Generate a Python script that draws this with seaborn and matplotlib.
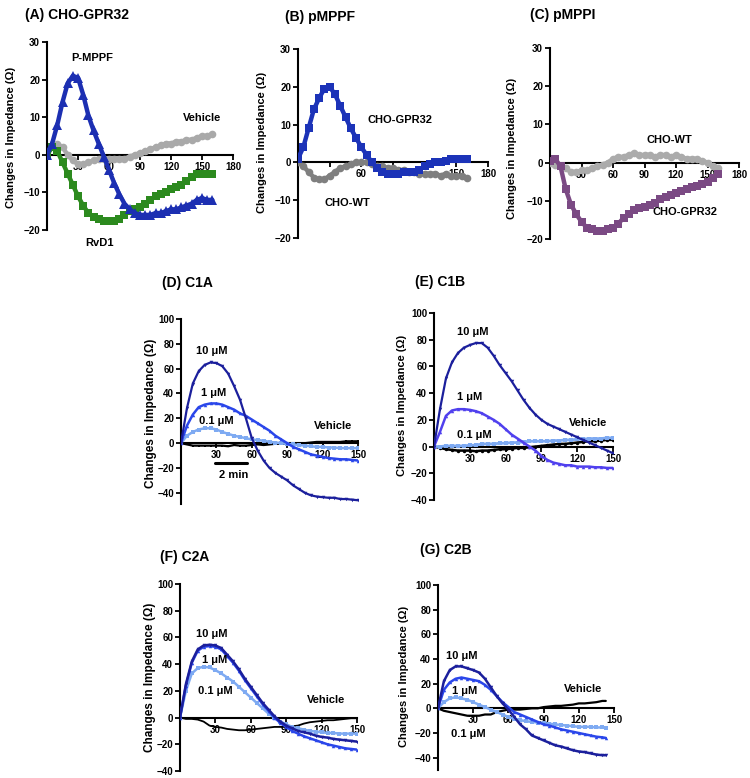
import numpy as np
import pandas as pd
import seaborn as sns
import matplotlib.pyplot as plt

W, H = 750, 778

# ---- data ----
T_ABC = list(range(0, 165, 5))          # 0..160
T_VEH_A = list(range(10, 165, 5))       # vehicle trace in A starts a bit later
T_DEF = list(range(0, 155, 5))          # 0..150
T_G = list(range(0, 145, 5)) + [143]    # G traces stop near 143

# (A) CHO-GPR32
A_PMPPF = [0, 3, 8, 14, 19, 21, 20.5, 16, 10.5, 6.5, 3, -0.5, -4, -7.5, -10.5, -13, -14.5,
           -15.5, -16, -16, -16, -15.5, -15.5, -15, -14.5, -14.5, -14, -13.5, -13, -12,
           -11.5, -12, -12]
A_RVD1 = [0, 2, 1, -2, -5, -8, -11, -13.5, -15.5, -16.5, -17, -17.5, -17.5, -17.5, -17, -16,
          -15, -14.5, -14, -13, -12, -11, -10.5, -10, -9, -8.5, -8, -7, -6, -5, -5, -5, -5]
A_VEHICLE = [3, 2, 0, -1.5, -2.5, -2.5, -2, -1.5, -1, -1, -1, -1, -1, -1, -0.5, 0, 0.5, 1,
             1.5, 2, 2.5, 3, 3, 3.5, 3.5, 4, 4, 4.5, 5, 5, 5.5]

# (B) pMPPF
B_GPR32 = [1, 4, 9, 14, 17, 19.5, 20, 18, 15, 12, 9, 6.5, 4, 2, 0, -1.5, -2.5, -3, -3, -3,
           -2.5, -2.5, -2.5, -2, -1, -0.5, 0, 0, 0.5, 1, 1, 1, 1]
B_WT = [0, -1, -2.5, -4, -4.5, -4.5, -3.5, -2.5, -1.5, -1, -0.5, 0, 0, 0, -0.5, -1, -1, -1.5,
        -1.5, -2, -2, -2.5, -2.5, -3, -3, -3, -3, -3.5, -3, -3.5, -3.5, -3.5, -4]

# (C) pMPPI
C_WT = [0, -0.5, -1, -1.5, -2.5, -2.5, -2, -2, -1.5, -1, -0.5, 0, 1, 1.5, 1.5, 2, 2.5, 2, 2,
        2, 1.5, 2, 2, 1.5, 2, 1.5, 1, 1, 1, 0.5, 0, -1, -1.5]
C_GPR32 = [0.5, 1, -1, -7, -11, -13.5, -15.5, -17, -17.5, -18, -18, -17.5, -17, -16, -14.5,
           -13.5, -12.5, -12, -11.5, -11, -10.5, -9.5, -9, -8.5, -8, -7.5, -7, -6.5, -6,
           -5.5, -5, -4, -3]

# (D) C1A
D_10 = [0, 28, 48, 58, 63, 65, 64.5, 62, 56, 46, 35, 20, 4, -6, -14, -20, -24, -27, -30, -34,
        -37, -40, -42, -43, -43.5, -44, -44, -45, -45, -45.5, -46]
D_1 = [0, 14, 23, 29, 31, 32, 32, 31, 29, 27, 24, 22, 19, 16, 13, 10, 6, 3, 0, -3, -5, -7, -9,
       -10, -11, -12, -12.5, -13, -13, -13.5, -14]
D_01 = [0, 6, 9, 11, 12, 12, 11, 9, 7.5, 6, 5, 4, 3, 2.5, 2, 1, 0.5, 0, -0.5, -1, -1.5, -2,
        -2.5, -3, -3, -3.5, -3.5, -4, -4, -4, -4]
D_VEH = [0, -1, -2, -2, -2, -2, -2, -2, -2.5, -1.5, -2, -2, -1.5, -1, -1.5, -1, -0.5, -0.5, 0,
         0, 0, 0, 0.5, 1, 1, 1, 1, 1, 1.5, 1.5, 1.5]

# (E) C1B
E_10 = [0, 28, 51, 63, 70, 74, 76, 77.5, 77.5, 74, 68, 61, 55, 49, 42, 35, 29, 24, 20, 17, 15,
        13, 11, 9, 7, 5, 3, 1, -1, -3, -5]
E_1 = [0, 11, 23, 27, 28, 28, 27.5, 26.5, 25, 22.5, 20, 17, 13, 9, 6, 3, 0, -3, -7, -10, -12,
       -13, -14, -14, -15, -15, -15, -15.5, -15.5, -16, -16]
E_01 = [0, 0, 0.5, 0.5, 0.5, 0.5, 1, 1, 2, 2, 2, 2.5, 2.5, 3, 3, 3.5, 4, 4, 4, 4, 4.5, 4.5, 5,
        5, 5.5, 5.5, 6, 6, 6, 6.5, 6.5]
E_VEH = [0, -1, -2, -2.5, -3, -3, -3, -3.5, -3, -3, -2.5, -2, -2, -1.5, -1, -1, -0.5, 0, 0.5,
         1, 1.5, 2, 2, 2.5, 3, 3.5, 4, 4, 4.5, 5, 5]

# (F) C2A
F_10 = [0, 25, 42, 51, 54, 54.5, 54, 52, 47, 42, 36, 29, 23, 17, 11, 6, 1, -3, -6, -8, -10,
        -11, -12, -13.5, -14.5, -15, -16, -16.5, -17, -17.5, -18]
F_1 = [0, 24, 41, 50, 53, 53.5, 53, 51, 46, 41, 35, 28, 22, 16, 10, 5, 0, -4, -7, -10, -12,
       -14, -15.5, -17, -18.5, -20, -21, -22, -23, -23.5, -24]
F_01 = [0, 20, 33, 37, 38, 37.5, 35.5, 33, 30, 27, 23, 19, 15, 11, 7, 3, 0, -3, -5, -7, -8,
        -9, -10, -10.5, -11, -11.5, -11.5, -12, -12, -12, -12]
F_VEH = [0, -1, -1, -1.5, -3, -6, -7, -7.5, -8.5, -9, -9.5, -9.5, -9, -8.5, -8, -7.5, -7, -7,
         -7, -6.5, -6, -4.5, -3.5, -3, -2.5, -2, -2, -1.5, -1, -0.5, -0.5]

# (G) C2B
G_10 = [0, 22, 31, 34, 34, 32.5, 31, 29, 24, 17, 10, 4, -1, -7, -13, -17, -22, -24, -26, -28,
        -30, -31, -32.5, -34, -35, -35.5, -36.5, -37.5, -38, -38]
G_1 = [0, 15, 21, 24, 25, 24, 23, 22, 19, 15, 10, 5, 1, -3, -5, -7, -9, -11, -13, -14, -15.5,
       -17, -18, -19, -20, -21, -22, -23, -23.5, -24]
G_01 = [0, 5, 8, 9, 8, 7, 5, 3, 1, -1, -3, -5, -7, -8.5, -9.5, -10.5, -11, -11.5, -12, -12.5,
        -13, -13.5, -14, -14.5, -15, -15, -15, -15.5, -15.5, -16]
G_VEH = [0, -2, -3, -4, -5, -6, -6, -6, -5, -5, -3, -2, -1, -1, -1, -0.5, 0, 0, 1, 1.5, 2, 2,
         2.5, 3, 4, 4, 4.5, 5, 6, 6]

SCALE_BAR_X = [29, 56]
SCALE_BAR_Y = -16

# ---- style ----
sns.set_style("ticks")
plt.rcParams['font.family'] = ['Liberation Sans', 'DejaVu Sans']
plt.rcParams['axes.linewidth'] = 1.5
for key in ['text.color', 'axes.labelcolor', 'xtick.color', 'ytick.color', 'axes.edgecolor']:
    plt.rcParams[key] = 'black'

NAVY = '#1b1f9c'
BLUE = '#2a46ea'
LIGHT = '#7eaaf2'
YLAB = 'Changes in Impedance (\u03a9)'

fig = plt.figure(figsize=(W / 100, H / 100), dpi=100)


def make_axes(px_left, px_right, px_top, px_bottom):
    rect = [px_left / W, 1 - px_bottom / H, (px_right - px_left) / W, (px_bottom - px_top) / H]
    return fig.add_axes(rect)


def style_axis(ax, xmax, ylim, yticks, xticks):
    ax.set_xlim(0, xmax)
    ax.set_ylim(*ylim)
    ax.spines['bottom'].set_position(('data', 0))
    ax.spines[['top', 'right']].set_visible(False)
    ax.set_xticks(xticks)
    ax.set_yticks(yticks)
    ax.tick_params(direction='out', length=3.5, width=1.3, labelsize=7, pad=1.5)
    for lab in ax.get_xticklabels() + ax.get_yticklabels():
        lab.set_fontweight('bold')
    ax.set_xlabel('')
    ax.set_ylabel('')
    ax.patch.set_alpha(0)


def trace(ax, x, y, color, marker, ms, lw):
    sns.lineplot(x=x, y=y, ax=ax, color=color, marker=marker, markersize=ms,
                 markeredgewidth=0, linewidth=lw, zorder=3, legend=False)


def label(ax, x, y, s, size=8):
    ax.text(x, y, s, ha='center', va='center', fontsize=size, fontweight='bold', zorder=4)


# ---- top row ----
axA = make_axes(47, 233, 42, 230)
trace(axA, T_VEH_A, A_VEHICLE, '#a9a9a9', 'o', 5.5, 3.2)
trace(axA, T_ABC, A_RVD1, '#2c8a1e', 's', 5.5, 3.2)
trace(axA, T_ABC, A_PMPPF, '#1c2fb2', '^', 6.5, 3.2)
style_axis(axA, 180, (-20, 30), range(-20, 31, 10), range(30, 181, 30))
label(axA, 43.5, 25.7, 'P-MPPF')
label(axA, 150, 9.8, 'Vehicle')
label(axA, 51, -23.5, 'RvD1')

axB = make_axes(298, 488, 49, 238)
trace(axB, T_ABC, B_WT, '#7f7f7f', 'o', 5.5, 3.2)
trace(axB, T_ABC, B_GPR32, '#1c33b8', 's', 5.5, 3.2)
style_axis(axB, 180, (-20, 30), range(-20, 31, 10), range(30, 181, 30))
axB.set_xticklabels(['', '60', '', '', '150', '180'], fontweight='bold')
label(axB, 96.6, 11.2, 'CHO-GPR32')
label(axB, 46.4, -10.7, 'CHO-WT')

axC = make_axes(550, 739, 48, 239)
trace(axC, T_ABC, C_WT, '#ababab', 'o', 5.5, 3.2)
trace(axC, T_ABC, C_GPR32, '#7b4a84', 's', 5.5, 3.2)
style_axis(axC, 180, (-20, 30), range(-20, 31, 10), range(30, 181, 30))
label(axC, 114, 5.9, 'CHO-WT')
label(axC, 128.6, -12.9, 'CHO-GPR32')

# ---- middle row ----
axD = make_axes(181, 358, 319, 504)
trace(axD, T_DEF, D_VEH, 'black', 's', 2, 1.6)
trace(axD, T_DEF, D_01, LIGHT, 's', 2.5, 1.8)
trace(axD, T_DEF, D_1, BLUE, '^', 2.5, 1.8)
trace(axD, T_DEF, D_10, NAVY, 'v', 2.5, 1.6)
style_axis(axD, 150, (-49, 100), range(-40, 101, 20), range(30, 151, 30))
axD.plot(SCALE_BAR_X, [SCALE_BAR_Y] * 2, color='black', linewidth=2.2)
label(axD, 45, -25.5, '2 min')
label(axD, 26, 74, '10 \u03bcM')
label(axD, 27.4, 40.5, '1 \u03bcM')
label(axD, 30, 17.6, '0.1 \u03bcM')
label(axD, 129, 13.6, 'Vehicle')

axE = make_axes(434, 613, 313, 500)
trace(axE, T_DEF, E_VEH, 'black', 'o', 2.5, 1.8)
trace(axE, T_DEF, E_01, LIGHT, 's', 2.5, 2)
trace(axE, T_DEF, E_1, '#5040ee', '^', 2.5, 1.8)
trace(axE, T_DEF, E_10, NAVY, 'v', 2.5, 1.6)
style_axis(axE, 150, (-40, 100), range(-40, 101, 20), range(30, 151, 30))
label(axE, 32.8, 86, '10 \u03bcM')
label(axE, 30, 37, '1 \u03bcM')
label(axE, 34, 9, '0.1 \u03bcM')
label(axE, 129, 17.5, 'Vehicle')

# ---- bottom row ----
axF = make_axes(180, 357, 584, 771)
trace(axF, T_DEF, F_VEH, 'black', None, 0, 1.3)
trace(axF, T_DEF, F_01, LIGHT, 's', 2.5, 1.8)
trace(axF, T_DEF, F_1, BLUE, '^', 2.5, 1.8)
trace(axF, T_DEF, F_10, NAVY, 'v', 2.5, 1.8)
style_axis(axF, 150, (-40, 100), range(-40, 101, 20), range(30, 151, 30))
label(axF, 26.8, 62.8, '10 \u03bcM')
label(axF, 29.6, 43, '1 \u03bcM')
label(axF, 29.6, 20, '0.1 \u03bcM')
label(axF, 124, 12.8, 'Vehicle')

axG = make_axes(438, 614, 585, 770)
trace(axG, T_G, G_VEH, 'black', None, 0, 1.6)
trace(axG, T_G, G_01, LIGHT, 's', 2.5, 1.8)
trace(axG, T_G, G_1, BLUE, '^', 2.5, 1.8)
trace(axG, T_G, G_10, NAVY, 'v', 2.5, 1.8)
style_axis(axG, 150, (-50, 100), range(-40, 101, 20), range(30, 151, 30))
label(axG, 20.4, 42.3, '10 \u03bcM')
label(axG, 23, 14, '1 \u03bcM')
label(axG, 26, -20.5, '0.1 \u03bcM')
label(axG, 124, 16, 'Vehicle')

# ---- titles and y labels (pixel placement) ----
titles = [('(A) CHO-GPR32', 25, 15), ('(B) pMPPF', 285, 17), ('(C) pMPPI', 530, 15),
          ('(D) C1A', 162, 283), ('(E) C1B', 415, 282), ('(F) C2A', 160, 557),
          ('(G) C2B', 420, 550)]
for s, px, py in titles:
    fig.text(px / W, 1 - py / H, s, ha='left', va='center', fontsize=10, fontweight='bold')

ylabels = [(11, 137, 8), (262, 142, 8), (512, 148, 8), (151, 413, 8.5), (402, 405, 8),
           (150, 677, 8.5), (404, 676, 8)]
for px, py, fs in ylabels:
    fig.text(px / W, 1 - py / H, YLAB, rotation=90, ha='center', va='center',
             fontsize=fs, fontweight='bold')

fig.savefig('out.png', dpi=100, facecolor='white')
